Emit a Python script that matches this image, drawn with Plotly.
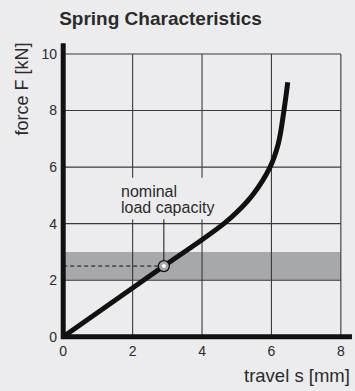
import plotly.graph_objects as go

# Spring characteristic: travel s [mm] vs. force F [kN]
travel_mm = [0, 2.9, 4.0, 4.63, 5.0, 5.48, 5.96, 6.2, 6.36, 6.47]
force_kn = [0, 2.5, 3.43, 4.0, 4.4, 5.05, 6.0, 6.84, 8.0, 9.0]

# nominal load capacity (operating point) and its load band
nominal_s = 2.9
nominal_f = 2.5
band_low, band_high = 2.0, 3.0

x_ticks = [0, 2, 4, 6, 8]
y_ticks = [0, 2, 4, 6, 8, 10]
x_tick_text = ["0", "2", "4", "6", "8"]
y_tick_text = ["0", "2", "4", "6", "8", "10"]

X_RANGE = [-0.15, 8.35]
Y_RANGE = [-0.15, 10.6]
X_AXIS_END = 8.32
Y_AXIS_END = 10.38

# label block for the operating point
LABEL_X = 1.61
LABEL_Y_TOP = 5.13
LABEL_Y_BOTTOM = 4.565
LABEL_BOX = dict(x0=1.49, x1=4.43, y0=4.15, y1=5.62)

BG = "#ececee"
BAND = "#a7a8ab"
GRID = "#3a3a3a"
INK = "#111111"
TEXT = "#2b2b2b"
FONT = "Liberation Sans, Arial, Helvetica, sans-serif"

fig = go.Figure()

shapes = []
# operating band
shapes.append(dict(type="rect", xref="x", yref="y", layer="below",
                   x0=0, x1=x_ticks[-1], y0=band_low, y1=band_high,
                   fillcolor=BAND, line=dict(width=0)))
# grid, closed at the last tick on each axis
for xv in x_ticks[1:]:
    shapes.append(dict(type="line", xref="x", yref="y", layer="below",
                       x0=xv, x1=xv, y0=0, y1=y_ticks[-1],
                       line=dict(color=GRID, width=1.1)))
for yv in y_ticks[1:]:
    shapes.append(dict(type="line", xref="x", yref="y", layer="below",
                       x0=0, x1=x_ticks[-1], y0=yv, y1=yv,
                       line=dict(color=GRID, width=1.1)))
# knock the grid out behind the label
shapes.append(dict(type="rect", xref="x", yref="y", layer="below",
                   fillcolor=BG, line=dict(width=0), **LABEL_BOX))
# heavy axes meeting at the origin
shapes.append(dict(type="path", xref="x", yref="y", layer="below",
                   path=f"M 0,{Y_AXIS_END} L 0,0 L {X_AXIS_END},0",
                   line=dict(color=INK, width=5)))

# dashed reference to the force axis and leader up to the label
fig.add_trace(go.Scatter(x=[0, nominal_s], y=[nominal_f, nominal_f], mode="lines",
                         line=dict(color=INK, width=1, dash="4px,3px"),
                         hoverinfo="skip", showlegend=False))
fig.add_trace(go.Scatter(x=[nominal_s, nominal_s], y=[nominal_f, LABEL_BOX["y0"]],
                         mode="lines", line=dict(color=INK, width=1),
                         hoverinfo="skip", showlegend=False))

# characteristic curve
fig.add_trace(go.Scatter(x=travel_mm, y=force_kn, mode="lines",
                         line=dict(color=INK, width=5, shape="spline", smoothing=1.0),
                         hoverinfo="skip", showlegend=False))

# marker at the nominal point
fig.add_trace(go.Scatter(x=[nominal_s], y=[nominal_f], mode="markers",
                         marker=dict(symbol="circle", size=11, color=BAND,
                                     line=dict(color=INK, width=1.3)),
                         hoverinfo="skip", showlegend=False))
fig.add_trace(go.Scatter(x=[nominal_s], y=[nominal_f], mode="markers",
                         marker=dict(symbol="circle", size=4, color="white",
                                     line=dict(width=0)),
                         hoverinfo="skip", showlegend=False))

annotations = [
    dict(text="nominal", xref="x", yref="y", x=LABEL_X, y=LABEL_Y_TOP,
         xanchor="left", yanchor="middle", showarrow=False,
         font=dict(family=FONT, size=16, color=TEXT)),
    dict(text="load capacity", xref="x", yref="y", x=LABEL_X, y=LABEL_Y_BOTTOM,
         xanchor="left", yanchor="middle", showarrow=False,
         font=dict(family=FONT, size=16, color=TEXT)),
    dict(text="force F [kN]", xref="paper", yref="paper", x=-0.1234, y=0.829,
         xanchor="center", yanchor="middle", textangle=-90, showarrow=False,
         font=dict(family=FONT, size=18, color=TEXT)),
    dict(text="travel s [mm]", xref="paper", yref="paper", x=0.9956, y=-0.115,
         xanchor="right", yanchor="middle", showarrow=False,
         font=dict(family=FONT, size=18.5, color=TEXT)),
]

fig.update_layout(
    width=355, height=391,
    margin=dict(l=58, r=2, t=37, b=50),
    paper_bgcolor=BG, plot_bgcolor=BG,
    shapes=shapes, annotations=annotations,
    title=dict(text="<b>Spring Characteristics</b>", xref="paper", x=0.004,
               xanchor="left", y=1 - 18 / 391, yanchor="middle",
               font=dict(family=FONT, size=19, color=TEXT)),
    xaxis=dict(range=X_RANGE, showgrid=False, zeroline=False, showline=False,
               tickvals=x_ticks, ticktext=x_tick_text, ticks="",
               tickfont=dict(family=FONT, size=14, color=TEXT)),
    yaxis=dict(range=Y_RANGE, showgrid=False, zeroline=False, showline=False,
               tickvals=y_ticks, ticktext=y_tick_text, ticks="",
               tickfont=dict(family=FONT, size=14, color=TEXT)),
)

fig.write_html("out.html")
